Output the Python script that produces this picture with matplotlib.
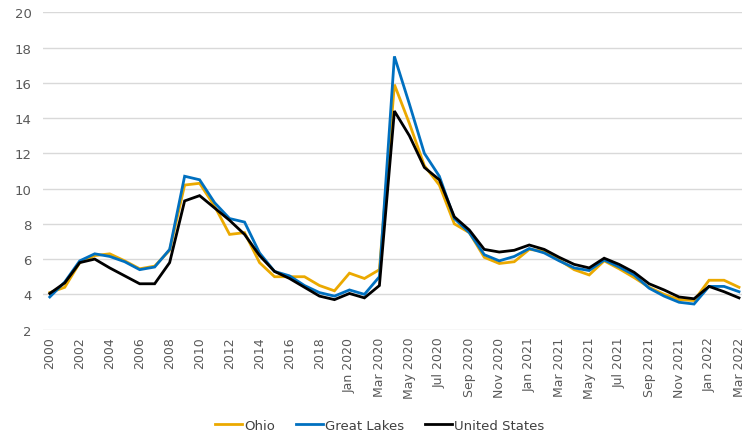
import matplotlib.pyplot as plt

years = [str(y) for y in range(2000, 2020)]
months = ["Jan", "Feb", "Mar", "Apr", "May", "Jun", "Jul", "Aug", "Sep", "Oct", "Nov", "Dec"]
monthly = [f"{m} {y}" for y in (2020, 2021) for m in months] + ["Jan 2022", "Feb 2022", "Mar 2022"]
periods = years + monthly

ohio = [4.1, 4.4, 5.8, 6.2, 6.3, 5.9, 5.45, 5.6, 6.5, 10.2, 10.3, 9.0, 7.4, 7.5, 5.8, 5.0,
        5.0, 5.0, 4.5, 4.2, 5.2, 4.9, 5.4,
        15.9, 13.7, 11.3, 10.2, 8.0, 7.5, 6.1, 5.75, 5.85, 6.55, 6.45, 5.95, 5.4, 5.1,
        5.9, 5.45, 4.95, 4.4, 4.0, 3.7, 3.65, 4.8, 4.8, 4.4]
great_lakes = [3.85, 4.7, 5.9, 6.3, 6.15, 5.85, 5.4, 5.55, 6.55, 10.7, 10.5, 9.2, 8.3, 8.1, 6.35, 5.3,
               5.05, 4.5, 4.1, 3.9, 4.25, 4.0, 5.0,
               17.5, 14.8, 12.0, 10.7, 8.3, 7.5, 6.25, 5.9, 6.15, 6.6, 6.35, 5.9, 5.5, 5.35,
               5.95, 5.55, 5.1, 4.35, 3.9, 3.55, 3.45, 4.45, 4.45, 4.15]
united_states = [4.05, 4.65, 5.8, 6.0, 5.5, 5.05, 4.6, 4.6, 5.8, 9.3, 9.6, 8.9, 8.2, 7.4, 6.2, 5.3,
                 4.9, 4.4, 3.9, 3.7, 4.05, 3.8, 4.5,
                 14.4, 13.0, 11.2, 10.5, 8.4, 7.65, 6.55, 6.4, 6.5, 6.8, 6.55, 6.1, 5.7, 5.5,
                 6.05, 5.7, 5.25, 4.6, 4.25, 3.85, 3.75, 4.45, 4.15, 3.8]

series = [("Ohio", ohio, "#EBA900"), ("Great Lakes", great_lakes, "#0070C0"),
          ("United States", united_states, "#000000")]

fig = plt.figure(figsize=(7.42, 4.35), dpi=100)
ax = fig.add_axes([0.058, 0.24, 0.942, 0.7294])

x = list(range(len(periods)))
for name, vals, col in series:
    ax.plot(x, vals, color=col, lw=2.0, label=name, solid_joinstyle="miter")

ax.set_ylim(2, 20)
ax.set_yticks(range(2, 21, 2))
ax.set_xlim(-0.45, len(periods) - 1 + 0.2)
ax.set_xticks(x[::2])
ax.set_xticklabels(periods[::2], rotation=90, fontsize=9, color="#595959")
ax.tick_params(axis="y", labelsize=9.5, labelcolor="#595959", length=0, pad=8)
ax.tick_params(axis="x", length=0, pad=5)
ax.grid(axis="y", color="#D9D9D9", lw=1)
ax.set_axisbelow(True)
for s in ax.spines.values():
    s.set_visible(False)

fig.legend(loc="lower center", bbox_to_anchor=(0.512, -0.022), ncol=3, frameon=False,
           fontsize=9.5, handlelength=2.0, handletextpad=0.2, columnspacing=1.6,
           labelcolor="#404040")

fig.savefig("out.png", dpi=100)
